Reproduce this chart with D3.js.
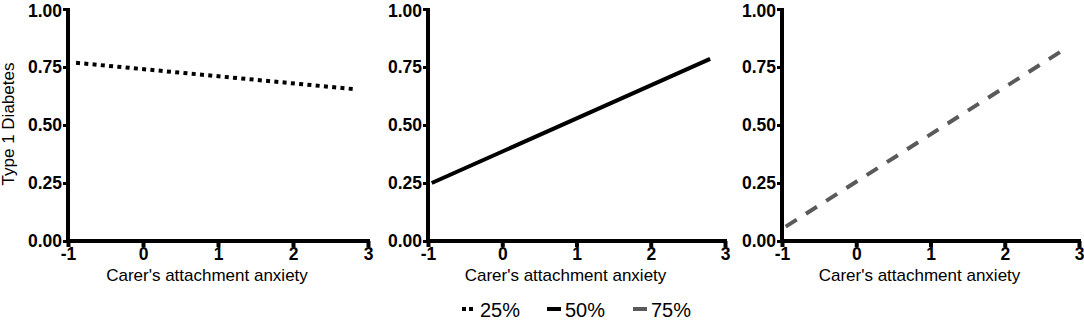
<!DOCTYPE html>
<html><head><meta charset="utf-8">
<script src="https://cdn.jsdelivr.net/npm/d3@7"></script>
<style>body{margin:0;background:#fff}svg{display:block;font-family:"Liberation Sans",Arial,sans-serif}</style>
</head><body>
<svg id="c" width="1084" height="320"></svg>
<script>
const xTicks = [-1, 0, 1, 2, 3];
const yTicks = [0, 0.25, 0.5, 0.75, 1];
const seriesNames = ["25%", "50%", "75%"];
const lineX = [-0.95, 2.8];
const line25 = [0.77, 0.655];
const line50 = [0.25, 0.785];
const line75 = [0.062, 0.826];
const seriesValues = [line25, line50, line75];
const colors = ["#000000", "#000000", "#5a5a5a"];
const dashes = ["4,4.3", null, "13,11"];
const dashOffsets = [4, 0, 0];
const xTitle = "Carer's attachment anxiety";
const yTitle = "Type 1 Diabetes";

const svg = d3.select("#c");
const panels = [[68, 368], [428, 725], [782, 1079]];
const y = d3.scaleLinear().domain([0, 1]).range([241, 9]);

panels.forEach((r, i) => {
  const x = d3.scaleLinear().domain([-1, 3]).range(r);
  const g = svg.append("g");
  // x axis
  const xa = g.append("g").attr("transform", "translate(0,241)")
    .call(d3.axisBottom(x).tickValues(xTicks).tickFormat(d3.format("d")).tickSize(6).tickPadding(1).tickSizeOuter(0));
  xa.select(".domain").attr("stroke", "#000").attr("stroke-width", 4).attr("d", `M${r[0]-2},0H${r[1]+2}`);
  xa.selectAll(".tick line").attr("stroke", "#000").attr("stroke-width", 4);
  xa.selectAll(".tick text").attr("font-size", 17.5).attr("font-weight", "bold").attr("fill", "#000")
    .attr("font-family", "Liberation Sans, Arial, sans-serif").text(d => d < 0 ? "-" + Math.abs(d) : d);
  // y axis
  const ya = g.append("g").attr("transform", `translate(${r[0]},0)`)
    .call(d3.axisLeft(y).tickValues(yTicks).tickFormat(d3.format(".2f")).tickSize(5).tickPadding(1).tickSizeOuter(0));
  ya.select(".domain").attr("stroke", "#000").attr("stroke-width", 4).attr("d", `M0,${y(1)-1}V${y(0)+2}`);
  ya.selectAll(".tick line").attr("stroke", "#000").attr("stroke-width", 3);
  ya.selectAll(".tick text").attr("font-size", 17.5).attr("font-weight", "bold").attr("fill", "#000")
    .attr("font-family", "Liberation Sans, Arial, sans-serif")
    .attr("y", d => d === 1 ? 1.5 : 0);
  // x title
  g.append("text").attr("x", (r[0] + r[1]) / 2 - 11).attr("y", 281).attr("text-anchor", "middle")
    .attr("font-size", 17).text(xTitle);
  // line
  const pts = lineX.map((xv, k) => [x(xv), y(seriesValues[i][k])]);
  const p = g.append("path").attr("d", d3.line()(pts)).attr("fill", "none")
    .attr("stroke", colors[i]).attr("stroke-width", 4);
  if (dashes[i]) p.attr("stroke-dasharray", dashes[i]).attr("stroke-dashoffset", dashOffsets[i]);
});

// y title
svg.append("text").attr("transform", "translate(14,124) rotate(-90)").attr("text-anchor", "middle")
  .attr("font-size", 17).text(yTitle);

// legend
const legX = [462, 547, 633];
seriesNames.forEach((n, i) => {
  const lg = svg.append("g");
  lg.append("line").attr("x1", legX[i]).attr("x2", legX[i] + (i === 0 ? 11 : 14)).attr("y1", 309).attr("y2", 309)
    .attr("stroke", colors[i]).attr("stroke-width", 4)
    .attr("stroke-dasharray", i === 0 ? "4,3" : null);
  lg.append("text").attr("x", legX[i] + 18).attr("y", 317).attr("font-size", 20).text(n);
});
</script>
</body></html>
